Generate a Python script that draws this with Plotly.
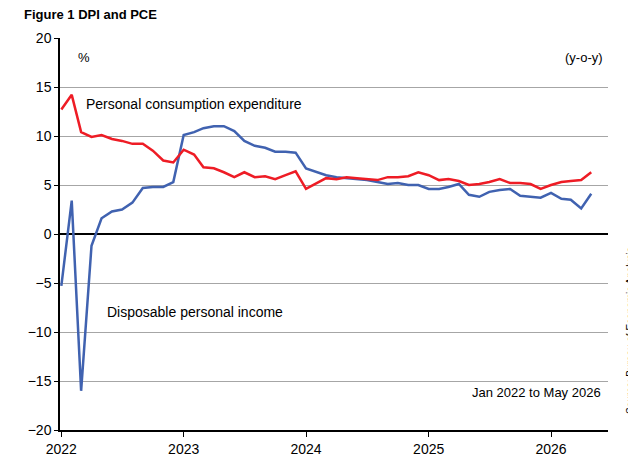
import plotly.graph_objects as go
import pandas as pd

dates = pd.date_range("2022-01-01", periods=53, freq="MS")
pce = [12.7,14.2,10.4,9.9,10.1,9.7,9.5,9.2,9.2,8.5,7.5,7.3,
       8.6,8.1,6.8,6.7,6.3,5.8,6.3,5.8,5.9,5.6,6.0,6.4,
       4.6,5.2,5.7,5.6,5.8,5.7,5.6,5.5,5.8,5.8,5.9,6.3,
       6.0,5.5,5.6,5.4,5.0,5.1,5.3,5.6,5.2,5.2,5.1,4.6,
       5.0,5.3,5.4,5.5,6.3]
dpi = [-5.3,3.4,-16.0,-1.2,1.6,2.3,2.5,3.2,4.7,4.8,4.8,5.3,
       10.1,10.4,10.8,11.0,11.0,10.5,9.5,9.0,8.8,8.4,8.4,8.3,
       6.7,6.3,6.0,5.8,5.7,5.6,5.5,5.3,5.1,5.2,5.0,5.0,
       4.6,4.6,4.8,5.1,4.0,3.8,4.3,4.5,4.6,3.9,3.8,3.7,
       4.2,3.6,3.5,2.6,4.1]
year_ticks = ["2022-01-01","2023-01-01","2024-01-01","2025-01-01","2026-01-01"]
year_labels = ["2022","2023","2024","2025","2026"]

font = "Liberation Sans, Arial, sans-serif"
fig = go.Figure()
fig.add_trace(go.Scatter(x=dates, y=dpi, mode="lines", line=dict(color="#4062B0", width=2.5)))
fig.add_trace(go.Scatter(x=dates, y=pce, mode="lines", line=dict(color="#EE1C25", width=2.5)))
fig.update_layout(
    width=636, height=460, showlegend=False,
    margin=dict(l=52, r=36, t=30, b=38, autoexpand=False),
    plot_bgcolor="white", paper_bgcolor="white",
    font=dict(family=font, size=14, color="black"),
    xaxis=dict(range=["2021-12-28","2026-06-20"], tickvals=year_ticks, ticktext=year_labels,
               showgrid=False, showline=True, linecolor="black", linewidth=1.5,
               ticks="outside", ticklen=5, tickcolor="black", zeroline=False, automargin=False),
    yaxis=dict(range=[-20,20], dtick=5, showgrid=True, gridcolor="#A6A6A6", gridwidth=1,
               showline=True, linecolor="black", linewidth=1.5, ticks="outside",
               ticklen=4, tickcolor="black", automargin=False,
               zeroline=True, zerolinecolor="black", zerolinewidth=1.5),
    annotations=[
        dict(text="<b>Figure 1 DPI and PCE</b>", x=0, y=452, xref="paper", yref="paper",
             showarrow=False, font=dict(size=13)),
        dict(text="%", x="2022-02-15", y=18, showarrow=False, xanchor="left", font=dict(size=13)),
        dict(text="(y-o-y)", x=0.995, y=18, xref="paper", showarrow=False, xanchor="right", font=dict(size=13)),
        dict(text="Personal consumption expenditure", x="2022-03-10", y=13.3, showarrow=False,
             xanchor="left", font=dict(size=14)),
        dict(text="Disposable personal income", x="2022-05-10", y=-8, showarrow=False,
             xanchor="left", font=dict(size=14)),
        dict(text="Jan 2022 to May 2026", x=0.99, y=-16.2, xref="paper", showarrow=False,
             xanchor="right", font=dict(size=13)),
        dict(text="Source: Bureau of Economic Analysis", x=1.04, y=0.255, xref="paper", yref="paper",
             xanchor="center", yanchor="middle", textangle=-90, showarrow=False,
             font=dict(size=10)),
    ],
)
fig.layout.annotations[0].update(x=-0.07, y=1.035, xanchor="left", yanchor="bottom")
fig.write_html("out.html")
